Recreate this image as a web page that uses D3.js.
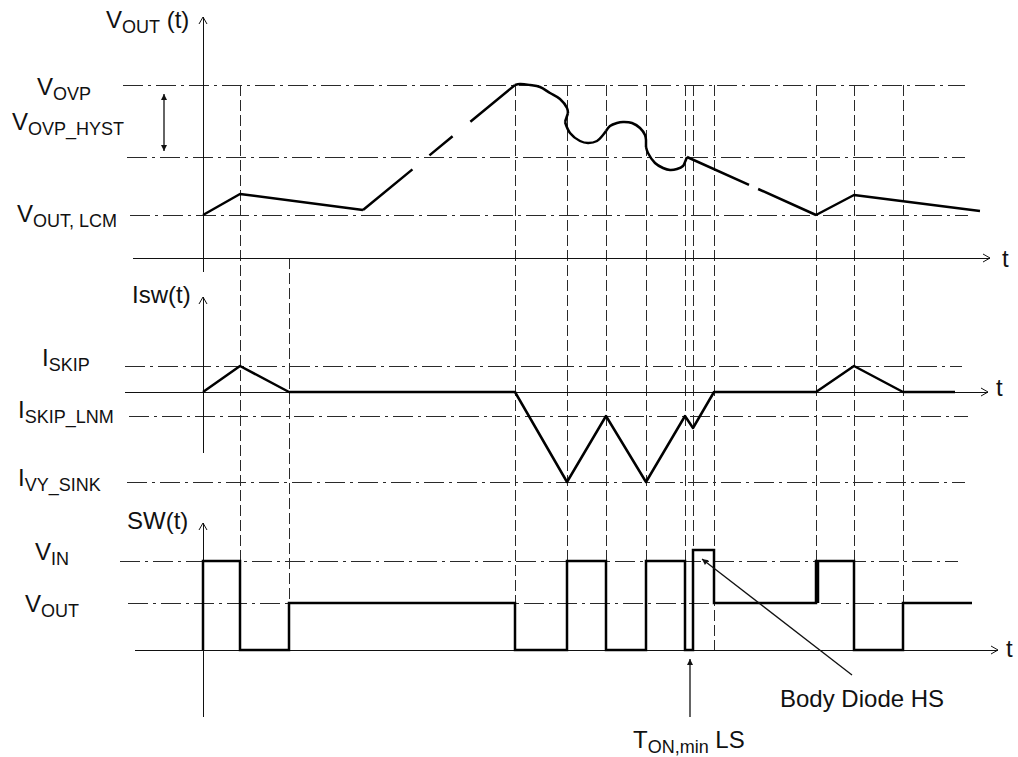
<!DOCTYPE html>
<html>
<head>
  <meta charset="utf-8">
  <title>Skip mode / OVP timing</title>
  <script src="https://d3js.org/d3.v7.min.js"></script>
  <style>
    body { margin: 0; background: white; }
    svg text { font-family: "Liberation Sans", Arial, sans-serif; fill: #111; }
  </style>
</head>
<body>
<div id="chart"></div>
<script>
  // ---- data (time in arbitrary units, each trace in its own units) ----
  const vLevelNames = [["V", "OVP"], ["V", "OVP_HYST"], ["V", "OUT, LCM"]];
  const vLevels = [173, 101, 43];
  const iLevelNames = [["I", "SKIP"], ["I", "SKIP_LNM"], ["I", "VY_SINK"]];
  const iLevels = [26, -24, -90];
  const swLevelNames = [["V", "IN"], ["V", "OUT"]];
  const swLevels = [89, 47];

  const voutStart = [[0, 43], [37, 64], [160, 48]];
  const voutRamp = [[160, 48], [312, 173]];
  const voutWave = [
    [[312, 173], [317, 174], [327, 173], [337, 171], [347, 165], [357, 159], [364, 150], [365, 145]],
    [[365, 145], [362, 136]],
    [[362, 136], [367, 125], [377, 117], [385, 115], [394, 117], [400, 123], [403, 127]],
    [[403, 127], [407, 132], [414, 135], [420, 136], [429, 135], [437, 130], [442, 123], [443, 118]],
    [[443, 118], [443, 111]],
    [[443, 111], [445, 105], [452, 95], [460, 90], [467, 88], [474, 89], [480, 92], [482, 96], [484, 101]]
  ];
  const voutFall = [[484, 101], [613, 43]];
  const voutEnd = [[613, 43], [651, 63], [777, 47]];

  const isw = [[0, 0], [37, 26], [86, 0], [312, 0], [364, -90], [403, -24], [443, -90],
               [482, -24], [490, -36], [511, 0], [613, 0], [651, 26], [700, 0], [752, 0]];

  const sw = [[0, 0], [0, 89], [37, 89], [37, 0], [86, 0], [86, 47], [312, 47], [312, 0],
              [364, 0], [364, 89], [403, 89], [403, 0], [443, 0], [443, 89], [482, 89], [482, 0],
              [490, 0], [490, 100], [511, 100], [511, 47], [613, 47], [613, 89], [651, 89],
              [651, 0], [700, 0], [700, 47], [769, 47]];

  // vertical guides: time, top (vout units), bottom (sw units)
  const guideT = [37, 86, 312, 364, 403, 443, 482, 490, 511, 613, 651, 700];
  const guideTop = [173, 0, 173, 173, 173, 173, 173, 173, 173, 173, 173, 173];
  const guideBot = [89, 47, 47, 89, 89, 89, 89, 100, 0, 47, 89, 47];

  // ---- drawing ----
  const W = 1018, H = 757;
  const svg = d3.select("#chart").append("svg").attr("width", W).attr("height", H);

  const x = d3.scaleLinear().domain([0, 800]).range([203, 1003]);
  const yV = d3.scaleLinear().domain([0, 241]).range([258, 17]);
  const yI = d3.scaleLinear().domain([0, 95]).range([392, 297]);
  const yS = d3.scaleLinear().domain([0, 127]).range([650, 523]);

  const defs = svg.append("defs");
  defs.append("marker").attr("id", "head")
      .attr("viewBox", "0 0 10 10").attr("refX", 10).attr("refY", 5)
      .attr("markerWidth", 9).attr("markerHeight", 6).attr("markerUnits", "userSpaceOnUse")
      .attr("orient", "auto-start-reverse")
    .append("path").attr("d", "M0,0 L10,5 L0,10 Z").attr("fill", "#111");

  const dashDot = "20,5,3,5";
  const guideColor = "#2a2a2a";

  // horizontal reference levels
  const vSpan = [[-80, 762], [-76, 762], [-73, 765]];
  const iSpan = [[-78, 759], [-74, 765], [-76, 762]];
  const sSpan = [[-83, 755], [-75, 760]];

  function levelLines(levels, spans, y) {
    svg.append("g").selectAll("line").data(levels).join("line")
      .attr("x1", (d, i) => x(spans[i][0])).attr("x2", (d, i) => x(spans[i][1]))
      .attr("y1", d => y(d)).attr("y2", d => y(d))
      .attr("stroke", guideColor).attr("stroke-width", 1)
      .attr("shape-rendering", "crispEdges")
      .attr("stroke-dasharray", dashDot);
  }
  levelLines(vLevels, vSpan, yV);
  levelLines(iLevels, iSpan, yI);
  levelLines(swLevels, sSpan, yS);

  // vertical dashed guides
  svg.append("g").selectAll("line").data(guideT).join("line")
    .attr("x1", d => x(d)).attr("x2", d => x(d))
    .attr("y1", (d, i) => yV(guideTop[i])).attr("y2", (d, i) => yS(guideBot[i]))
    .attr("stroke", guideColor).attr("stroke-width", 1)
    .attr("shape-rendering", "crispEdges")
    .attr("stroke-dasharray", "11,4");

  // axes (plain lines with open arrow tips)
  const axes = svg.append("g").attr("stroke", "#111").attr("stroke-width", 1).attr("fill", "none");
  function hAxis(y, t0, t1) {
    axes.append("line").attr("x1", x(t0)).attr("x2", x(t1)).attr("y1", y).attr("y2", y)
      .attr("shape-rendering", "crispEdges");
    axes.append("path").attr("d", `M${x(t1) - 7},${y - 4} L${x(t1)},${y} L${x(t1) - 7},${y + 4}`);
  }
  function vAxis(yTop, yBot) {
    axes.append("line").attr("x1", x(0)).attr("x2", x(0)).attr("y1", yTop).attr("y2", yBot)
      .attr("shape-rendering", "crispEdges");
    axes.append("path").attr("d", `M${x(0) - 4},${yTop + 7} L${x(0)},${yTop} L${x(0) + 4},${yTop + 7}`);
  }
  hAxis(yV(0), -70, 787);
  hAxis(yI(0), -78, 785);
  hAxis(yS(0), -68, 795);
  vAxis(yV(241), yV(-14));
  vAxis(yI(95), yI(-61));
  vAxis(yS(127), yS(-67));

  // traces
  const lineV = d3.line().x(d => x(d[0])).y(d => yV(d[1]));
  const waveV = d3.line().x(d => x(d[0])).y(d => yV(d[1])).curve(d3.curveCatmullRom.alpha(0.5));
  const lineI = d3.line().x(d => x(d[0])).y(d => yI(d[1]));
  const lineS = d3.line().x(d => x(d[0])).y(d => yS(d[1]));

  const traces = svg.append("g").attr("fill", "none").attr("stroke", "#000")
      .attr("stroke-width", 2.5).attr("stroke-linejoin", "round");
  traces.append("path").attr("d", lineV(voutStart));
  traces.append("path").attr("d", lineV(voutRamp)).attr("stroke-dasharray", "64,22,30,23,60");
  voutWave.forEach(seg => traces.append("path").attr("d", waveV(seg)));
  traces.append("path").attr("d", lineV(voutFall)).attr("stroke-dasharray", "68,10,80");
  traces.append("path").attr("d", lineV(voutEnd));
  traces.append("path").attr("d", lineI(isw));
  traces.append("path").attr("d", lineS(sw)).attr("stroke-linejoin", "miter");
  // doubled rising edge where switching resumes
  traces.append("line")
    .attr("x1", x(613) + 2).attr("x2", x(613) + 2)
    .attr("y1", yS(47)).attr("y2", yS(89)).attr("stroke-width", 2.5);

  // labels with subscripts
  function label(px, py, main, sub, tail) {
    const t = svg.append("text").attr("x", px).attr("y", py)
      .attr("font-size", 24).style("white-space", "pre");
    t.append("tspan").text(main);
    if (sub) t.append("tspan").attr("font-size", 18).attr("dy", 5).text(sub);
    if (tail) t.append("tspan").attr("font-size", 24).attr("dy", sub ? -5 : 0).text(tail);
    return t;
  }

  label(106, 28, "V", "OUT", " (t)");
  label(132, 303, "Isw(t)");
  label(127, 529, "SW(t)");

  const vLabelPos = [[37, 95], [12, 130], [17, 222]];
  vLevelNames.forEach((n, i) => label(vLabelPos[i][0], vLabelPos[i][1], n[0], n[1]));
  const iLabelPos = [[42, 366], [18, 418], [18, 486]];
  iLevelNames.forEach((n, i) => label(iLabelPos[i][0], iLabelPos[i][1], n[0], n[1]));
  const sLabelPos = [[35, 560], [25, 612]];
  swLevelNames.forEach((n, i) => label(sLabelPos[i][0], sLabelPos[i][1], n[0], n[1]));

  label(1002, 267, "t");
  label(996, 396, "t");
  label(1006, 657, "t");

  // hysteresis arrow
  svg.append("line")
    .attr("x1", 164).attr("x2", 164).attr("y1", yV(vLevels[0]) + 9).attr("y2", yV(vLevels[1]) - 6)
    .attr("stroke", "#111").attr("stroke-width", 1.3)
    .attr("marker-start", "url(#head)").attr("marker-end", "url(#head)");

  // annotations
  svg.append("line")
    .attr("x1", x(487)).attr("x2", x(487)).attr("y1", 717).attr("y2", yS(0) + 9)
    .attr("stroke", "#111").attr("stroke-width", 1.3).attr("marker-end", "url(#head)");
  label(633, 748, "T", "ON,min", " LS");

  svg.append("line")
    .attr("x1", 852).attr("y1", 675).attr("x2", x(499)).attr("y2", yS(91))
    .attr("stroke", "#111").attr("stroke-width", 1.3).attr("marker-end", "url(#head)");
  label(780, 707, "Body Diode HS");
</script>
</body>
</html>
